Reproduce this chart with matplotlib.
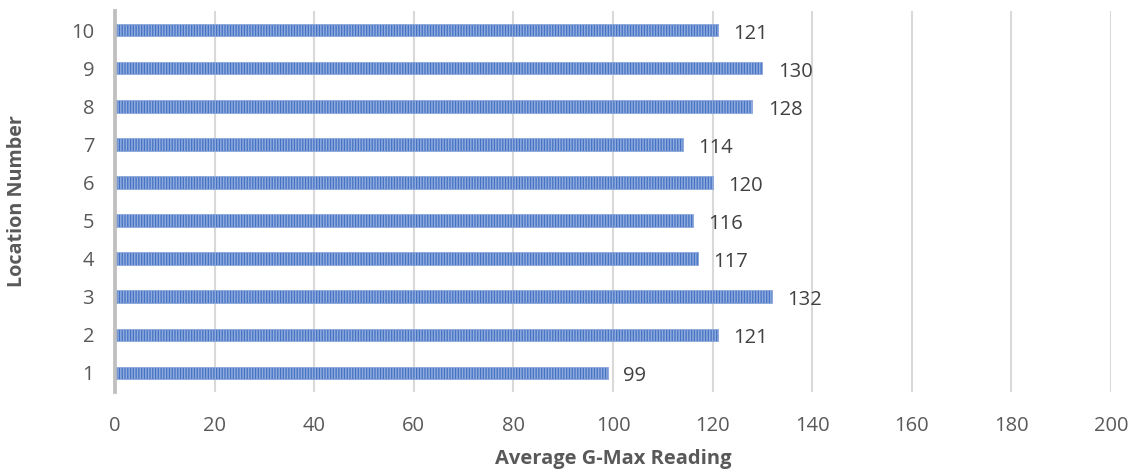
import matplotlib
matplotlib.use("Agg")
import matplotlib.pyplot as plt

locations = ["1", "2", "3", "4", "5", "6", "7", "8", "9", "10"]
gmax = [99, 121, 132, 117, 116, 120, 114, 128, 130, 121]
x_ticks = [0, 20, 40, 60, 80, 100, 120, 140, 160, 180, 200]

plt.rcParams["font.family"] = ["Open Sans", "DejaVu Sans"]
plt.rcParams["hatch.linewidth"] = 1.1
plt.rcParams["hatch.color"] = "#8FAADC"

W, H = 1131, 471
fig = plt.figure(figsize=(W / 100, H / 100), dpi=100)
left, right, top, bottom = 115, 1111, 11, 392
ax = fig.add_axes([left / W, 1 - bottom / H, (right - left) / W, (bottom - top) / H])

ypos = list(range(len(locations)))
ax.barh(ypos, gmax, height=0.33, color="#4472C4",
        edgecolor="#8FAADC", linewidth=0.6, hatch="||||||", zorder=3)

for y, v in zip(ypos, gmax):
    ax.annotate(str(v), xy=(v, y), xytext=(11, -2.5), textcoords="offset points",
                ha="left", va="center", fontsize=14.5, color="#404040")

ax.set_xlim(0, 200)
ax.set_ylim(-0.5, len(locations) - 0.5)
ax.set_xticks(x_ticks)
ax.set_yticks(ypos)
ax.set_yticklabels(locations)
ax.tick_params(axis="both", length=0, labelsize=14.5, labelcolor="#595959")
ax.tick_params(axis="x", pad=17)
ax.tick_params(axis="y", pad=15)

ax.grid(axis="x", color="#D9D9D9", linewidth=1.5, zorder=0)
for s in ["top", "right", "bottom"]:
    ax.spines[s].set_visible(False)
ax.spines["left"].set_color("#BFBFBF")
ax.spines["left"].set_linewidth(2.7)
ax.spines["left"].set_zorder(4)

fig.text((left + right) / 2 / W, 1 - 459 / H, "Average G-Max Reading",
         ha="center", va="center", fontsize=14.5, fontweight="bold", color="#595959")
fig.text(17 / W, 1 - (top + bottom) / 2 / H, "Location Number", rotation=90,
         ha="center", va="center", fontsize=14.2, fontweight="bold", color="#595959")

fig.savefig("out.png", dpi=100)
